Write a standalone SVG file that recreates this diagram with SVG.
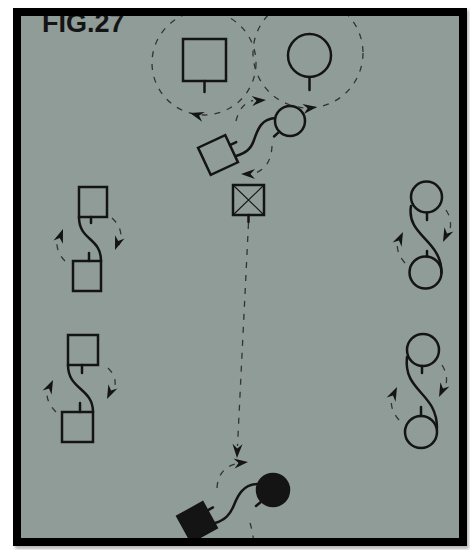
<svg xmlns="http://www.w3.org/2000/svg" width="470" height="550" viewBox="0 0 470 550">
<style>
.ln{fill:none;stroke:#141414;stroke-width:2.5;stroke-linecap:round}
.sh{fill:none;stroke:#141414;stroke-width:2.5}
.fl{fill:#141414;stroke:#141414;stroke-width:2.5}
.th{fill:none;stroke:#141414;stroke-width:1.1}
.da{fill:none;stroke:#333;stroke-width:1.3;stroke-dasharray:6 7}
.ar{fill:#141414}
</style>
<defs>
<path id="ah" d="M0,0 L-14,-5 L-9.5,0 L-14,5Z"/>
<filter id="blur" x="-5%" y="-5%" width="110%" height="110%"><feGaussianBlur stdDeviation="1.5"/></filter>
<clipPath id="inner"><rect x="17" y="12" width="446" height="530"/></clipPath>
</defs>
<rect width="470" height="550" fill="#ffffff"/>
<rect x="15" y="10" width="454" height="539" fill="#b8b8b8" filter="url(#blur)"/>
<rect x="17" y="12" width="446" height="530" fill="#909c98"/>
<g clip-path="url(#inner)">
<text x="42" y="32" font-family="Liberation Sans, Arial, sans-serif" font-weight="bold" font-size="27" fill="#141414">FIG.27</text>

<g id="top-square">
<rect class="sh" x="183" y="39" width="43" height="42"/>
<line class="ln" x1="204.5" y1="81" x2="204.5" y2="92"/>
</g>
<g id="top-circle">
<circle class="sh" cx="309.5" cy="55.5" r="21.5"/>
<line class="ln" x1="309.5" y1="77" x2="309.5" y2="90"/>
</g>
<g id="tilted-pair">
<circle class="sh" cx="290" cy="121" r="15"/>
<line class="ln" x1="279.4" y1="131.6" x2="274" y2="136.5"/>
<g transform="translate(218,155) rotate(-25)">
<rect class="sh" x="-15" y="-15" width="30" height="30"/>
<line class="ln" x1="15" y1="-4" x2="22" y2="-4"/>
</g>
<path class="ln" d="M275,118 C262,119 258,128 254,140 C251,149 246,153 236,156"/>
</g>
<g id="x-box">
<rect class="sh" x="233" y="185" width="31" height="30"/>
<path class="th" d="M233,185 L264,215 M264,185 L233,215"/>
<line class="ln" x1="248.5" y1="215" x2="248.5" y2="222"/>
</g>
<g id="left-pair-1">
<rect class="sh" x="79" y="187" width="28" height="30"/>
<line class="ln" x1="91" y1="217" x2="91" y2="223"/>
<rect class="sh" x="73" y="261" width="28" height="30"/>
<line class="ln" x1="89" y1="253" x2="89" y2="261"/>
<path class="ln" d="M79,217 C79,241 101,237 101,261"/>
</g>
<g id="left-pair-2">
<rect class="sh" x="68" y="335" width="30" height="30"/>
<line class="ln" x1="82" y1="365" x2="82" y2="373"/>
<rect class="sh" x="62" y="412" width="31" height="30"/>
<line class="ln" x1="80" y1="403" x2="80" y2="412"/>
<path class="ln" d="M68,365 C68,390 93,388 93,412"/>
</g>
<g id="right-pair-1">
<circle class="sh" cx="426.5" cy="197" r="15.5"/>
<line class="ln" x1="427" y1="212.5" x2="427" y2="220"/>
<circle class="sh" cx="425.5" cy="272.5" r="16"/>
<line class="ln" x1="427" y1="251" x2="427" y2="256.5"/>
<path class="ln" d="M411,206 C406,236 442,240 441.5,273"/>
</g>
<g id="right-pair-2">
<circle class="sh" cx="423" cy="350" r="16"/>
<line class="ln" x1="422" y1="366" x2="422" y2="373"/>
<circle class="sh" cx="421" cy="432" r="16"/>
<line class="ln" x1="421" y1="407" x2="421" y2="416"/>
<path class="ln" d="M407,357 C403,392 437,392 437,428"/>
</g>
<g id="bottom-pair">
<circle class="fl" cx="273" cy="490" r="16"/>
<line class="ln" x1="261.7" y1="501.3" x2="256" y2="506"/>
<g transform="translate(197,522) rotate(-29)">
<rect class="fl" x="-14.5" y="-14.5" width="29" height="29"/>
<line class="ln" x1="14.5" y1="-5" x2="21" y2="-5"/>
</g>
<path class="ln" d="M257,484 C243,485 238,495 234,505 C230,515 225,520 215,523"/>
</g>

<g id="connectors">
<circle class="da" cx="204" cy="63" r="52"/>
<circle class="da" cx="308" cy="53" r="55"/>
<use href="#ah" class="ar" transform="translate(190,113) rotate(196)"/>
<use href="#ah" class="ar" transform="translate(317,107) rotate(-8)"/>
<path class="da" d="M236,121 Q240,104 253,100.5"/>
<use href="#ah" class="ar" transform="translate(266,100) rotate(-4)"/>
<path class="da" d="M272,146 Q271,168 254,173.5"/>
<use href="#ah" class="ar" transform="translate(241,174) rotate(180)"/>
<path class="da" d="M248.5,223 L237.5,446"/>
<use href="#ah" class="ar" transform="translate(237,458) rotate(92)"/>
<path class="da" d="M217,488 Q218,469 235,464"/>
<use href="#ah" class="ar" transform="translate(248,462) rotate(-6)"/>
<path class="da" d="M250,523 Q253,532 254,545"/>
<path class="da" d="M112,218 Q125,230 119,245"/>
<use href="#ah" class="ar" transform="translate(115,250) rotate(110)"/>
<path class="da" d="M65,261 Q54,250 58,236"/>
<use href="#ah" class="ar" transform="translate(63,229) rotate(-70)"/>
<path class="da" d="M108,368 Q120,380 112,393"/>
<use href="#ah" class="ar" transform="translate(107,399) rotate(115)"/>
<path class="da" d="M56,412 Q44,400 48,388"/>
<use href="#ah" class="ar" transform="translate(53,380) rotate(-65)"/>
<path class="da" d="M446,210 Q454,222 448,236"/>
<use href="#ah" class="ar" transform="translate(443,242) rotate(115)"/>
<path class="da" d="M405,263 Q395,252 398,240"/>
<use href="#ah" class="ar" transform="translate(403,232) rotate(-65)"/>
<path class="da" d="M442,365 Q450,378 444,390"/>
<use href="#ah" class="ar" transform="translate(439,397) rotate(115)"/>
<path class="da" d="M399,420 Q389,409 392,396"/>
<use href="#ah" class="ar" transform="translate(397,387) rotate(-65)"/>
</g>
</g>

<rect x="17" y="12" width="446" height="530" fill="none" stroke="#000" stroke-width="8"/>
</svg>
